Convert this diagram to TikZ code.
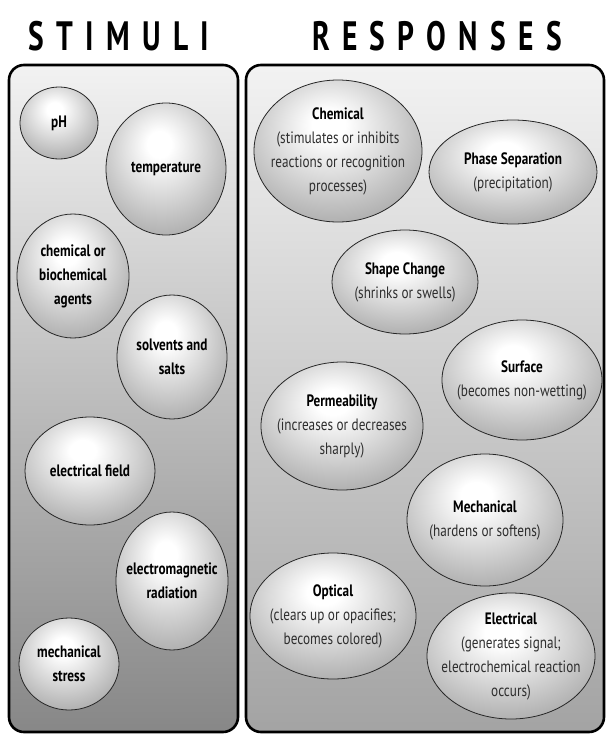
\documentclass[tikz,border=0pt]{standalone}
\usepackage{fontspec}
\setmainfont{PT Sans}[FakeStretch=0.8]
\newfontfamily\headfont{PT Sans}[FakeStretch=0.72,LetterSpace=30]
\usetikzlibrary{shapes.geometric}
\pgfdeclareradialshading{bubble}{\pgfpoint{-3bp}{10bp}}{%
	color(0bp)=(white); color(5bp)=(white); color(26bp)=(black!25);
	color(46bp)=(black!48); color(75bp)=(black!58)}
\definecolor{subgray}{gray}{0.18}
\tikzset{
	panel/.style={draw=black, line width=2.6pt, rounded corners=15pt,
			top color=black!5, bottom color=#1},
	heading/.style={font=\headfont\fontsize{41}{41}\selectfont\bfseries},
	bub/.style 2 args={ellipse, draw=black!85, line width=0.8pt,
			shading=bubble, minimum width=#1, minimum height=#2,
			inner xsep=-30pt, inner ysep=-30pt, align=center,
			font=\fontsize{16.5}{24}\selectfont},
	stim/.style={font=\fontsize{16.5}{24}\selectfont\bfseries, text=black},
	resp/.style={text=subgray}
}
\newcommand{\resphead}[1]{\textcolor{black}{\bfseries #1}}

\begin{document}
\begin{tikzpicture}[x=1pt,y=-1pt]
	\useasboundingbox (0,0) rectangle (607,736);
	\node[heading] (stimuli) at (119,36) {STIMULI};
	\node[heading] (responses) at (437,36) {RESPONSES};
	\draw[panel=black!47] (9,65) rectangle (238,732);
	\draw[panel=black!36] (246,65) rectangle (604,732);
	% stimuli
	\foreach \nm/\x/\y/\w/\h/\txt in {
			ph/59/123/78/72/{pH},
			temp/166/169/120/132/{temperature},
			agents/73/276/112/124/{chemical or\\biochemical\\agents},
			salts/172/357/110/124/{solvents and\\salts},
			field/90/471/130/108/{electrical field},
			radiation/172/581/112/138/{electromagnetic\\radiation},
			stress/69/664/100/92/{mechanical\\stress}}
	\node[bub={\w pt}{\h pt}, stim] (\nm) at (\x,\y) {\txt};
	% responses
	\node[bub={168pt}{142pt}, resp] (chemical) at (338,151)
	{\resphead{Chemical}\\(stimulates or inhibits\\reactions or recognition\\processes)};
	\node[bub={168pt}{104pt}, resp] (phase) at (513,172)
	{\resphead{Phase Separation}\\(precipitation)};
	\node[bub={146pt}{104pt}, resp] (shape) at (405,282)
	{\resphead{Shape Change}\\(shrinks or swells)};
	\node[bub={160pt}{120pt}, resp] (surface) at (522,380)
	{\resphead{Surface}\\(becomes non-wetting)};
	\node[bub={162pt}{128pt}, resp] (permeability) at (342,426)
	{\resphead{Permeability}\\(increases or decreases\\sharply)};
	\node[bub={156pt}{132pt}, resp] (mechanical) at (485,520)
	{\resphead{Mechanical}\\(hardens or softens)};
	\node[bub={166pt}{126pt}, resp] (optical) at (333,616)
	{\resphead{Optical}\\(clears up or opacifies;\\becomes colored)};
	\node[bub={168pt}{126pt}, resp] (electrical) at (511,656)
	{\resphead{Electrical}\\(generates signal;\\electrochemical reaction\\occurs)};
\end{tikzpicture}
\end{document}
